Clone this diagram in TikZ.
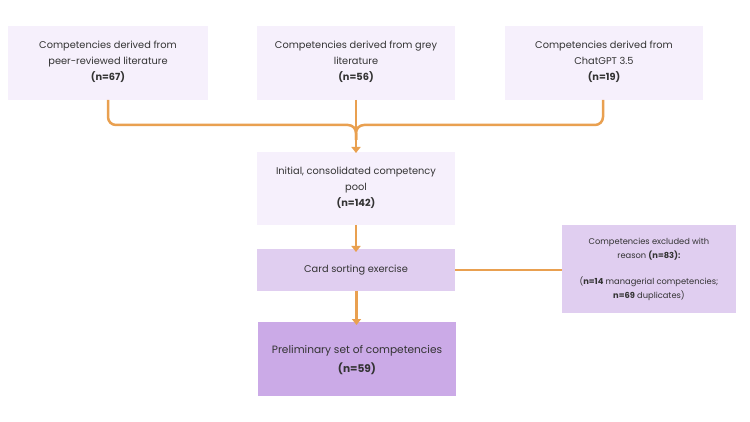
\documentclass[tikz,border=0pt]{standalone}
\usepackage{fontspec}
\setmainfont{Poppins}
\usetikzlibrary{arrows.meta}
\definecolor{boxA}{HTML}{F6F0FC}
\definecolor{boxB}{HTML}{E0CEF0}
\definecolor{boxC}{HTML}{CBAAE7}
\definecolor{orng}{HTML}{E9A050}
\definecolor{txt}{HTML}{333333}
\begin{document}
\begin{tikzpicture}[x=1pt,y=-1pt,
  box/.style={inner sep=0pt, align=center, text=txt, font=\fontsize{9.8}{16}\selectfont},
  conn/.style={draw=orng, line width=2.5pt, rounded corners=8pt},
  arr/.style={conn, -{Triangle[length=6pt,width=9pt]}}]
\useasboundingbox (0,0) rectangle (750,422);
\fill[white] (0,0) rectangle (750,422);
\fill[boxA] (8,26) rectangle (208,100);
\fill[boxA] (257,26) rectangle (455,100);
\fill[boxA] (505,26) rectangle (703,100);
\fill[boxA] (257,152) rectangle (455,225);
\fill[boxB] (257,249) rectangle (455,291);
\fill[boxB] (562,225) rectangle (736,313);
\fill[boxC] (258,322) rectangle (456,396);
\node[box] (b1) at (108,62) {Competencies derived from\\peer-reviewed literature\\\textbf{(n=67)}};
\node[box] (b2) at (356,62) {Competencies derived from grey\\literature\\\textbf{(n=56)}};
\node[box] (b3) at (604,62) {Competencies derived from\\ChatGPT 3.5\\\textbf{(n=19)}};
\node[box] (b4) at (356,188) {Initial, consolidated competency\\pool\\\textbf{(n=142)}};
\node[box] (b5) at (356,270) {Card sorting exercise};
\node[box, font=\fontsize{8.3}{14}\selectfont] (b6) at (649,269) {Competencies excluded with\\reason \textbf{(n=83):}\\[12pt](\textbf{n=14} managerial competencies;\\\textbf{n=69} duplicates)};
\node[box, font=\fontsize{10.6}{19}\selectfont] (b7) at (357,360) {Preliminary set of competencies\\\textbf{(n=59)}};
\coordinate (b1s) at (108,100);
\coordinate (b2s) at (356,100);
\coordinate (b3s) at (603,100);
\coordinate (b4n) at (356,152);
\coordinate (b4s) at (356,225);
\coordinate (b5n) at (356,249);
\coordinate (b5s) at (356.5,291);
\coordinate (b5e) at (455,270);
\coordinate (b6w) at (562,270);
\coordinate (b7n) at (356.5,322);
\draw[conn] (b1s) -- (108,125) -- (356,125) -- (356,140);
\draw[conn] (b3s) -- (603,125) -- (356,125) -- (356,140);
\draw[arr, rounded corners=0pt] (b2s) -- ([yshift=-1pt]b4n);
\draw[arr] (b4s) -- ([yshift=-3pt]b5n);
\draw[arr] (b5s) -- ([yshift=-3pt]b7n);
\draw[draw=orng, line width=1.2pt] (b5e) -- (b6w);
\end{tikzpicture}
\end{document}
